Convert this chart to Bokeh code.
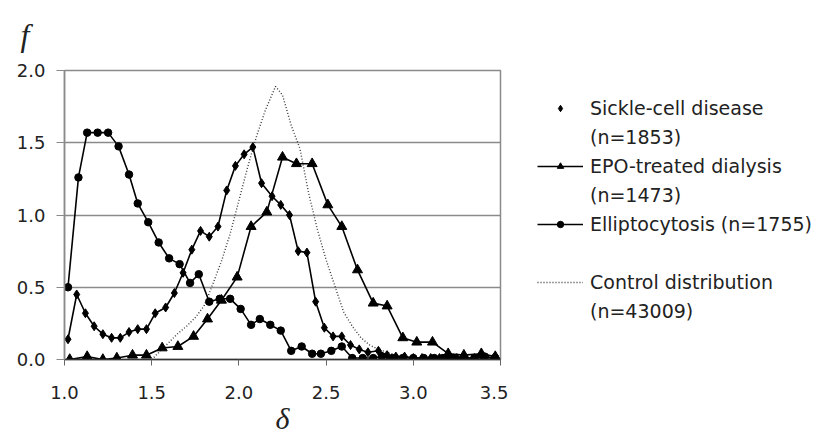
from bokeh.plotting import figure
from bokeh.layouts import row
from bokeh.models import (Range1d, FixedTicker, NumeralTickFormatter, Legend,
                          LegendItem)
from bokeh.embed import file_html
from bokeh.resources import INLINE

# ---- data ----
sickle_x = [1.02, 1.07, 1.12, 1.17, 1.22, 1.27, 1.32, 1.37, 1.42, 1.47,
            1.52, 1.58, 1.63, 1.68, 1.73, 1.78, 1.83, 1.88, 1.93, 1.98,
            2.03, 2.08, 2.13, 2.19, 2.24, 2.29, 2.34, 2.39, 2.44, 2.49,
            2.54, 2.59, 2.64, 2.69, 2.74, 2.80, 2.85, 2.90, 2.95, 3.00,
            3.05, 3.10, 3.15, 3.20, 3.25, 3.30, 3.35, 3.40, 3.46]
sickle_y = [0.14, 0.45, 0.32, 0.23, 0.175, 0.15, 0.15, 0.19, 0.21, 0.21,
            0.32, 0.36, 0.46, 0.60, 0.76, 0.89, 0.85, 0.92, 1.17, 1.34,
            1.42, 1.47, 1.22, 1.13, 1.07, 1.00, 0.75, 0.74, 0.40, 0.22,
            0.16, 0.16, 0.10, 0.07, 0.05, 0.06, 0.03, 0.02, 0.02, 0.01,
            0.01, 0.01, 0.01, 0.01, 0.01, 0.01, 0.01, 0.01, 0.01]

epo_x = [1.03, 1.13, 1.22, 1.30, 1.39, 1.47, 1.56, 1.65, 1.74, 1.82,
         1.90, 1.99, 2.07, 2.16, 2.25, 2.33, 2.42, 2.51, 2.59, 2.68,
         2.77, 2.85, 2.94, 3.02, 3.11, 3.20, 3.29, 3.39, 3.47]
epo_y = [0.00, 0.02, 0.00, 0.01, 0.03, 0.03, 0.08, 0.09, 0.16, 0.28,
         0.41, 0.57, 0.92, 1.02, 1.40, 1.355, 1.355, 1.07, 0.92, 0.62,
         0.39, 0.37, 0.15, 0.12, 0.12, 0.04, 0.03, 0.04, 0.02]

ellip_x = [1.02, 1.08, 1.13, 1.19, 1.25, 1.31, 1.37, 1.42, 1.48, 1.54,
           1.60, 1.66, 1.72, 1.77, 1.83, 1.89, 1.95, 2.01, 2.07, 2.12,
           2.18, 2.24, 2.30, 2.36, 2.42, 2.47, 2.53, 2.59, 2.65, 2.71,
           2.77, 2.82, 2.88, 2.94, 3.00, 3.06, 3.12, 3.17, 3.23, 3.29,
           3.35, 3.41, 3.47]
ellip_y = [0.50, 1.26, 1.57, 1.57, 1.57, 1.475, 1.28, 1.08, 0.95, 0.81,
           0.70, 0.66, 0.53, 0.59, 0.40, 0.42, 0.42, 0.35, 0.24, 0.28,
           0.24, 0.20, 0.06, 0.09, 0.04, 0.04, 0.06, 0.09, 0.01, 0.01,
           0.01, 0.02, 0.01, 0.01, 0.01, 0.01, 0.01, 0.01, 0.01, 0.01,
           0.01, 0.02, 0.01]

ctrl_x = [1.50, 1.55, 1.60, 1.65, 1.70, 1.75, 1.80, 1.85, 1.90, 1.95,
          2.00, 2.05, 2.10, 2.15, 2.21, 2.25, 2.30, 2.35, 2.40, 2.45,
          2.50, 2.55, 2.60, 2.65, 2.70, 2.75, 2.80, 2.85, 2.90, 2.95, 3.00]
ctrl_y = [0.00, 0.06, 0.12, 0.18, 0.23, 0.29, 0.37, 0.52, 0.68, 0.87,
          1.10, 1.33, 1.54, 1.72, 1.89, 1.83, 1.62, 1.46, 1.15, 0.90,
          0.69, 0.51, 0.33, 0.23, 0.15, 0.10, 0.07, 0.05, 0.03, 0.02, 0.01]

x_ticks = [1.0, 1.5, 2.0, 2.5, 3.0, 3.5]
y_ticks = [0.0, 0.5, 1.0, 1.5, 2.0]

labels = ["Sickle-cell disease", "(n=1853)", "EPO-treated dialysis", "(n=1473)",
          "Elliptocytosis (n=1755)", "Control distribution", "(n=43009)"]

H = 440
TOP, BOTTOM = 70, 81

# ---- main plot ----
p = figure(width=508, height=H, output_backend="svg", toolbar_location=None,
           x_range=Range1d(1.0, 3.5), y_range=Range1d(0.0, 2.0),
           title="f",
           min_border_left=64, min_border_right=8, min_border_top=TOP,
           min_border_bottom=BOTTOM)
p.background_fill_color = "white"
p.border_fill_color = "white"
p.outline_line_color = "#8a8a8a"
p.outline_line_width = 1.5

p.title.align = "left"
p.title.vertical_align = "top"
p.title.offset = -44
p.title.standoff = 32
p.title.text_font = "Liberation Serif"
p.title.text_font_style = "italic"
p.title.text_font_size = "32px"
p.title.text_color = "#222222"

p.xgrid.visible = False
p.ygrid.grid_line_color = "#8a8a8a"
p.ygrid.grid_line_width = 1.3

p.xaxis.ticker = FixedTicker(ticks=x_ticks)
p.yaxis.ticker = FixedTicker(ticks=y_ticks)
p.xaxis.formatter = NumeralTickFormatter(format="0.0")
p.yaxis.formatter = NumeralTickFormatter(format="0.0")
for ax in (p.xaxis, p.yaxis):
    ax.minor_tick_line_color = None
    ax.major_tick_in = 0
    ax.major_label_text_font = "DejaVu Sans"
    ax.major_label_text_font_size = "18px"
    ax.major_label_text_color = "#222222"
p.xaxis.major_tick_out = 6
p.xaxis.major_label_standoff = 20
p.xaxis.axis_line_color = "#333333"
p.xaxis.axis_line_width = 1.5
p.xaxis.major_tick_line_color = "#666666"
p.xaxis.axis_label = "δ"
p.xaxis.axis_label_text_font = "Liberation Serif"
p.xaxis.axis_label_text_font_style = "italic"
p.xaxis.axis_label_text_font_size = "30px"
p.xaxis.axis_label_text_color = "#222222"
p.xaxis.axis_label_standoff = 0
p.yaxis.major_tick_out = 8
p.yaxis.major_label_standoff = 11
p.yaxis.axis_line_color = "#8a8a8a"
p.yaxis.axis_line_width = 1.5
p.yaxis.major_tick_line_color = "#8a8a8a"

LINE_W = 1.6
CTRL_STYLE = dict(line_color="#3a3a3a", line_width=1.4, line_dash="1 2")

p.line(ctrl_x, ctrl_y, **CTRL_STYLE)
p.line(sickle_x, sickle_y, line_color="black", line_width=LINE_W)
p.scatter(sickle_x, sickle_y, marker="diamond", size=9,
          fill_color="black", line_color="black")
p.line(epo_x, epo_y, line_color="black", line_width=LINE_W)
p.scatter(epo_x, epo_y, marker="triangle", size=10,
          fill_color="black", line_color="black")
p.line(ellip_x, ellip_y, line_color="black", line_width=LINE_W)
p.scatter(ellip_x, ellip_y, marker="circle", size=7.5,
          fill_color="black", line_color="black")

# ---- legend panel: a figure that only shows the legend ----
# (its ranges leave the series out of view; they only feed the legend glyphs)
q = figure(width=316, height=H, output_backend="svg", toolbar_location=None,
           x_range=Range1d(10, 11), y_range=Range1d(10, 11),
           min_border_left=0, min_border_right=0, min_border_top=TOP,
           min_border_bottom=BOTTOM,
           x_axis_location=None, y_axis_location=None)
q.grid.visible = False
q.outline_line_color = None
q.background_fill_color = "white"
q.border_fill_color = "white"

l_sick = q.scatter(sickle_x, sickle_y, marker="diamond", size=9,
                   fill_color="black", line_color="black")
l_epo_line = q.line(epo_x, epo_y, line_color="black", line_width=LINE_W)
l_epo_pts = q.scatter(epo_x, epo_y, marker="triangle", fill_color="black",
                      line_color="black")
l_ell_line = q.line(ellip_x, ellip_y, line_color="black", line_width=LINE_W)
l_ell_pts = q.scatter(ellip_x, ellip_y, marker="circle", fill_color="black",
                      line_color="black")
l_ctrl = q.line(ctrl_x, ctrl_y, **CTRL_STYLE)
blank = q.scatter(ctrl_x, ctrl_y, marker="circle", fill_alpha=0, line_alpha=0)

legend = Legend(items=[
    LegendItem(label=labels[0], renderers=[l_sick]),
    LegendItem(label=labels[1], renderers=[blank]),
    LegendItem(label=labels[2], renderers=[l_epo_line, l_epo_pts]),
    LegendItem(label=labels[3], renderers=[blank]),
    LegendItem(label=labels[4], renderers=[l_ell_line, l_ell_pts]),
    LegendItem(label=" ", renderers=[blank]),
    LegendItem(label=labels[5], renderers=[l_ctrl]),
    LegendItem(label=labels[6], renderers=[blank]),
], location=(29, 34))
legend.label_text_font = "DejaVu Sans"
legend.label_text_font_size = "19px"
legend.label_text_color = "#222222"
legend.glyph_width = 46
legend.glyph_height = 16
legend.label_height = 29
legend.label_standoff = 7
legend.spacing = 0
legend.padding = 0
legend.margin = 0
legend.border_line_alpha = 0
legend.background_fill_alpha = 0
q.add_layout(legend)

layout = row(p, q, spacing=0)
open("out.html", "w").write(file_html(layout, INLINE))
